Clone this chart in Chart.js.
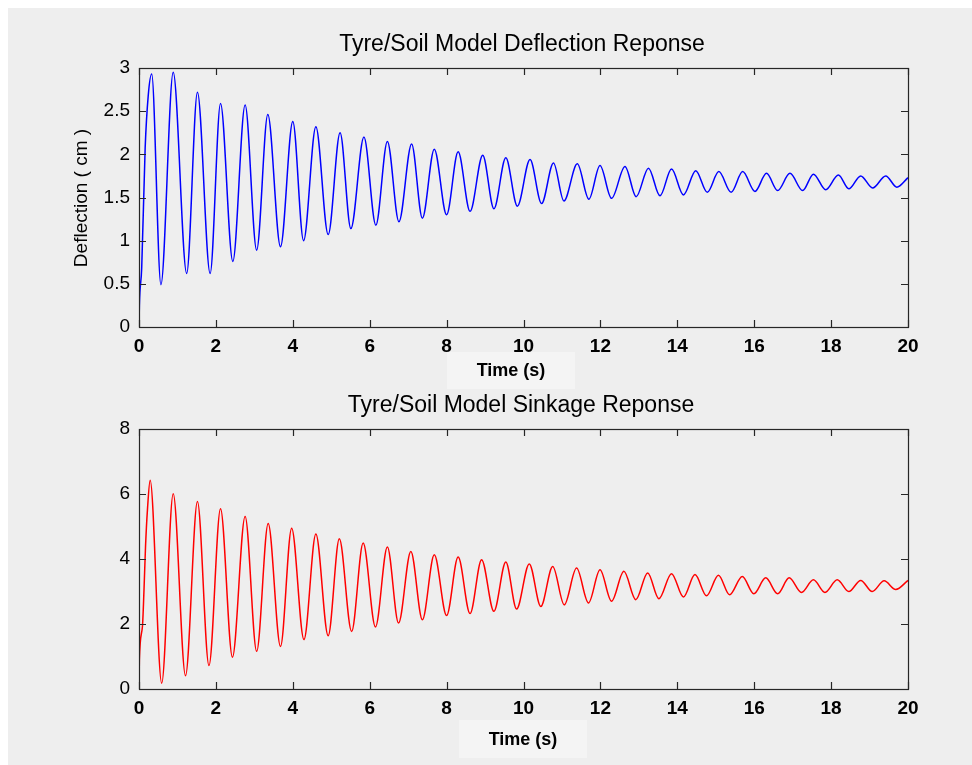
<!DOCTYPE html>
<html><head><meta charset="utf-8">
<script src="https://cdn.jsdelivr.net/npm/chart.js@4/dist/chart.umd.min.js"></script>
<style>
html,body{margin:0;padding:0;background:#ffffff;width:972px;height:765px;overflow:hidden;}
#bg{position:absolute;left:8px;top:8px;width:964px;height:757px;background:#eeeeee;}
canvas{position:absolute;left:0;}
#c1{top:0;width:972px;height:400px;}
#c2{top:385px;width:972px;height:380px;}
</style></head><body>
<div id="bg"></div>
<canvas id="c1" width="972" height="400"></canvas>
<canvas id="c2" width="972" height="380"></canvas>
<script>
// ---- data (time in s, values in cm) ----
const timeTickLabels = [0, 2, 4, 6, 8, 10, 12, 14, 16, 18, 20];
const deflectionTickLabels = [0, 0.5, 1, 1.5, 2, 2.5, 3];
const sinkageTickLabels = [0, 2, 4, 6, 8];

const deflectionTime = [0, 0.01, 0.07, 0.16, 0.24, 0.33, 0.57, 0.89, 1.24, 1.52, 1.85, 2.12, 2.44, 2.76, 3.06, 3.35, 3.68, 4.00, 4.28, 4.60, 4.92, 5.23, 5.51, 5.85, 6.16, 6.46, 6.76, 7.09, 7.37, 7.68, 8.00, 8.30, 8.61, 8.94, 9.23, 9.54, 9.84, 10.17, 10.47, 10.78, 11.05, 11.40, 11.70, 11.99, 12.29, 12.64, 12.93, 13.25, 13.55, 13.85, 14.16, 14.48, 14.78, 15.08, 15.40, 15.70, 16.02, 16.32, 16.61, 16.93, 17.26, 17.54, 17.86, 18.19, 18.46, 18.77, 19.08, 19.42, 19.71, 20.00];
const deflectionValue = [0, 0.25, 0.68, 2.07, 2.68, 2.93, 0.49, 2.95, 0.62, 2.72, 0.62, 2.59, 0.76, 2.57, 0.89, 2.46, 0.93, 2.38, 1.00, 2.32, 1.07, 2.25, 1.14, 2.20, 1.18, 2.15, 1.22, 2.12, 1.26, 2.06, 1.30, 2.03, 1.34, 1.99, 1.37, 1.96, 1.40, 1.94, 1.43, 1.90, 1.46, 1.89, 1.48, 1.87, 1.49, 1.86, 1.51, 1.84, 1.52, 1.83, 1.53, 1.81, 1.56, 1.80, 1.56, 1.80, 1.57, 1.78, 1.58, 1.78, 1.58, 1.77, 1.59, 1.76, 1.60, 1.75, 1.61, 1.75, 1.62, 1.73];

const sinkageTime = [0, 0.01, 0.09, 0.13, 0.17, 0.22, 0.29, 0.59, 0.89, 1.21, 1.52, 1.82, 2.12, 2.43, 2.76, 3.06, 3.36, 3.68, 3.97, 4.29, 4.60, 4.92, 5.21, 5.53, 5.83, 6.15, 6.46, 6.75, 7.07, 7.37, 7.68, 8.00, 8.30, 8.61, 8.91, 9.23, 9.54, 9.82, 10.15, 10.45, 10.76, 11.06, 11.38, 11.69, 11.99, 12.29, 12.61, 12.92, 13.23, 13.52, 13.85, 14.16, 14.46, 14.76, 15.07, 15.36, 15.69, 15.99, 16.30, 16.61, 16.91, 17.23, 17.54, 17.84, 18.16, 18.46, 18.77, 19.07, 19.38, 19.68, 20.00];
const sinkageValue = [0, 0.9, 1.93, 3.05, 4.39, 5.52, 6.42, 0.18, 6.01, 0.41, 5.77, 0.72, 5.55, 0.98, 5.31, 1.16, 5.09, 1.31, 4.95, 1.52, 4.77, 1.64, 4.62, 1.77, 4.49, 1.91, 4.37, 2.03, 4.23, 2.13, 4.13, 2.26, 4.06, 2.32, 3.98, 2.39, 3.91, 2.46, 3.85, 2.54, 3.77, 2.59, 3.72, 2.65, 3.67, 2.70, 3.62, 2.75, 3.57, 2.78, 3.55, 2.83, 3.52, 2.87, 3.50, 2.90, 3.46, 2.93, 3.42, 2.93, 3.42, 2.97, 3.36, 2.97, 3.36, 3.00, 3.34, 3.00, 3.33, 3.06, 3.34];

// ---- drawing ----
const FONT = "'Liberation Sans', Arial, sans-serif";

const decor = {
  id: 'decor',
  beforeDraw(chart, args, o) {
    const ctx = chart.ctx;
    ctx.save();
    ctx.fillStyle = '#f4f4f4';
    ctx.fillRect(o.box[0], o.box[1], o.box[2], o.box[3]);
    ctx.restore();
  },
  afterDraw(chart, args, o) {
    const ctx = chart.ctx, a = chart.chartArea;
    const xs = chart.scales.x, ys = chart.scales.y;
    ctx.save();
    // frame
    ctx.strokeStyle = '#262626';
    ctx.lineWidth = 1.2;
    ctx.strokeRect(Math.round(a.left) + 0.5, Math.round(a.top) + 0.5, Math.round(a.right - a.left), Math.round(a.bottom - a.top));
    // inward ticks on all four sides
    const L = 7;
    ctx.beginPath();
    xs.ticks.forEach(t => {
      const px = Math.round(xs.getPixelForValue(t.value)) + 0.5;
      ctx.moveTo(px, a.bottom); ctx.lineTo(px, a.bottom - L);
      ctx.moveTo(px, a.top); ctx.lineTo(px, a.top + L);
    });
    ys.ticks.forEach(t => {
      const py = Math.round(ys.getPixelForValue(t.value)) + 0.5;
      ctx.moveTo(a.left, py); ctx.lineTo(a.left + L, py);
      ctx.moveTo(a.right, py); ctx.lineTo(a.right - L, py);
    });
    ctx.stroke();
    // title
    ctx.fillStyle = '#000';
    ctx.font = '23px ' + FONT;
    ctx.textAlign = 'center';
    ctx.textBaseline = 'alphabetic';
    ctx.fillText(o.title, o.titleX, o.titleY);
    // y label
    ctx.save();
    ctx.translate(o.yLabelX, o.yLabelY);
    ctx.rotate(-Math.PI / 2);
    ctx.font = '19px ' + FONT;
    ctx.textBaseline = 'middle';
    ctx.fillText(o.yLabel, 0, 0);
    ctx.restore();
    // x label text
    ctx.font = 'bold 18px ' + FONT;
    ctx.textBaseline = 'middle';
    ctx.fillText('Time (s)', o.box[0] + o.box[2] * o.textFrac, o.box[1] + o.box[3] / 2 + 1);
    ctx.restore();
  }
};

function makeChart(id, times, values, color, yTicks, yMax, padTop, xHeight, deco) {
  return new Chart(document.getElementById(id), {
    type: 'line',
    data: {
      datasets: [{
        data: times.map((t, i) => ({x: t, y: values[i]})),
        borderColor: color,
        borderWidth: 1.5,
        pointRadius: 0,
        fill: false,
        cubicInterpolationMode: 'monotone'
      }]
    },
    options: {
      responsive: false,
      animation: false,
      devicePixelRatio: 1,
      layout: {padding: {left: 0, right: 64, top: padTop, bottom: 0}},
      plugins: {legend: {display: false}, tooltip: {enabled: false}, decor: deco},
      scales: {
        x: {
          type: 'linear', min: 0, max: 20,
          grid: {display: false}, border: {display: false},
          afterBuildTicks: s => { s.ticks = timeTickLabels.map(v => ({value: v})); },
          afterFit: s => { s.height = xHeight; },
          ticks: {color: '#000', padding: 0, maxRotation: 0, callback: v => String(v),
                  font: {family: FONT, size: 19, weight: 'bold'}}
        },
        y: {
          type: 'linear', min: 0, max: yMax,
          grid: {display: false}, border: {display: false},
          afterBuildTicks: s => { s.ticks = yTicks.map(v => ({value: v})); },
          afterFit: s => { s.width = 139; },
          ticks: {color: '#000', padding: 1, callback: v => String(v),
                  font: {family: FONT, size: 19}}
        }
      }
    },
    plugins: [decor]
  });
}

makeChart('c1', deflectionTime, deflectionValue, '#0000ff', deflectionTickLabels, 3, 68, 73, {
  title: 'Tyre/Soil Model Deflection Reponse', titleX: 522, titleY: 51,
  yLabel: 'Deflection ( cm )', yLabelX: 82, yLabelY: 198,
  box: [447, 352, 128, 37], textFrac: 0.5
});
makeChart('c2', sinkageTime, sinkageValue, '#ff0000', sinkageTickLabels, 8, 44, 76, {
  title: 'Tyre/Soil Model Sinkage Reponse', titleX: 521, titleY: 27,
  yLabel: 'Total Soil Sinkage ( cm )', yLabelX: 100, yLabelY: 563,
  box: [459, 335, 128, 38], textFrac: 0.5
});
</script>
</body></html>
